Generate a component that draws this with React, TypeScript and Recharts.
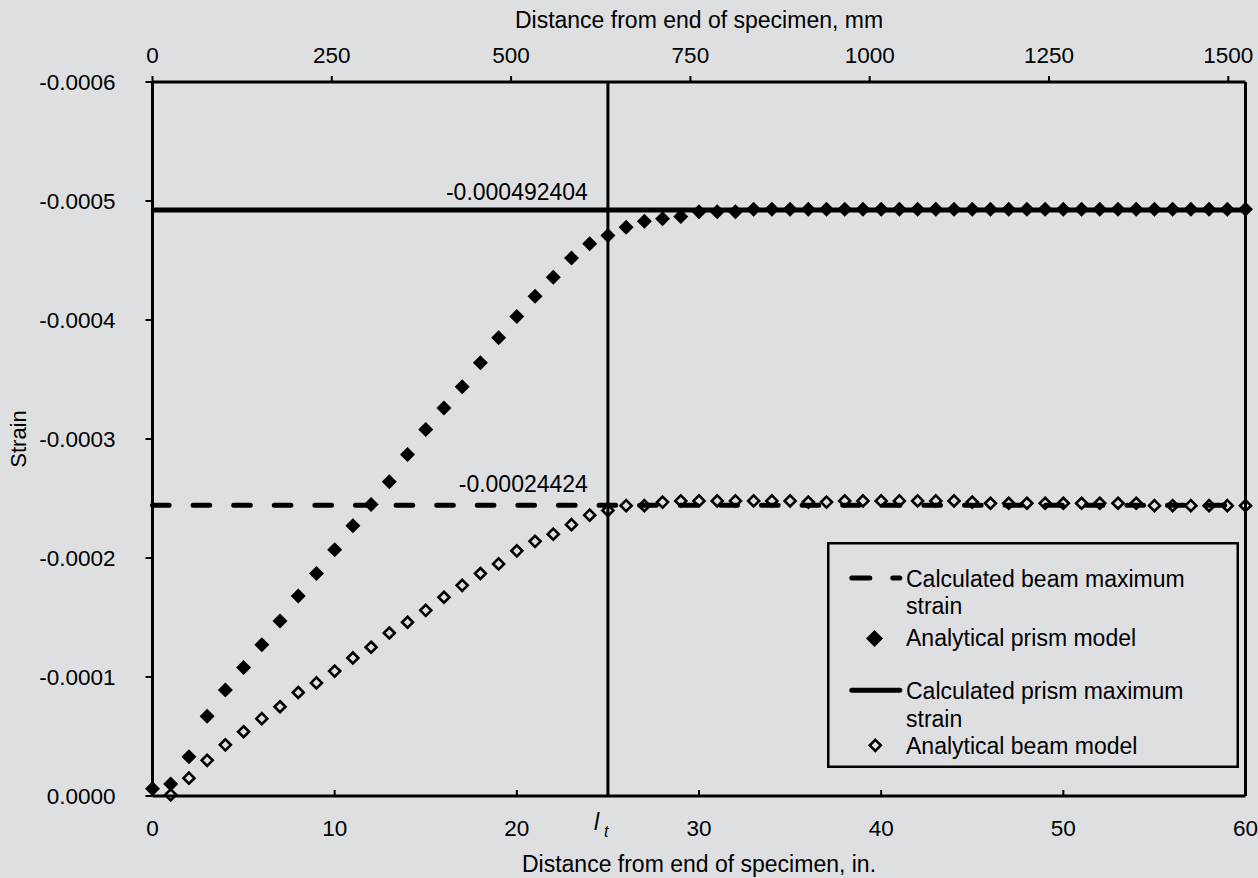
import React from 'react';
import { ScatterChart, Scatter, XAxis, YAxis, ReferenceLine } from 'recharts';

const FONT = '"Liberation Sans", Arial, Helvetica, sans-serif';
const BG = '#dedfe1';

// axis ticks
const inchTicks = [0, 10, 20, 25, 30, 40, 50, 60];
const mmTicks = [0, 250, 500, 750, 1000, 1250, 1500];
const strainTicks = [0, -0.0001, -0.0002, -0.0003, -0.0004, -0.0005, -0.0006];

// reference values
const transferLength = 25;
const specimenEnd = 60;
const mmPerInch = 25.4;
const prismMaxStrain = -0.000492404;
const beamMaxStrain = -0.00024424;

// analytical prism model (filled diamonds), distance in inches
const prismX = [
  0, 1, 2, 3, 4, 5, 6, 7, 8, 9, 10, 11, 12, 13, 14, 15, 16, 17, 18, 19, 20,
  21, 22, 23, 24, 25, 26, 27, 28, 29, 30, 31, 32, 33, 34, 35, 36, 37, 38, 39, 40,
  41, 42, 43, 44, 45, 46, 47, 48, 49, 50, 51, 52, 53, 54, 55, 56, 57, 58, 59, 60,
];
const prismStrain = [
  -0.000006, -0.00001, -0.000033, -0.000067, -0.000089, -0.000108, -0.000127,
  -0.000147, -0.000168, -0.000187, -0.000207, -0.000227, -0.000245, -0.000264,
  -0.000287, -0.000308, -0.000326, -0.000344, -0.000364, -0.000385, -0.000403,
  -0.00042, -0.000436, -0.000452, -0.000464, -0.000471, -0.000478, -0.000483,
  -0.000485, -0.000487, -0.000491, -0.000491, -0.000491, -0.000493, -0.000493,
  -0.000493, -0.000493, -0.000493, -0.000493, -0.000493, -0.000493, -0.000493,
  -0.000493, -0.000493, -0.000493, -0.000493, -0.000493, -0.000493, -0.000493,
  -0.000493, -0.000493, -0.000493, -0.000493, -0.000493, -0.000493, -0.000493,
  -0.000493, -0.000493, -0.000493, -0.000493, -0.000493,
];

// analytical beam model (open diamonds)
const beamX = [
  1, 2, 3, 4, 5, 6, 7, 8, 9, 10, 11, 12, 13, 14, 15, 16, 17, 18, 19, 20,
  21, 22, 23, 24, 25, 26, 27, 28, 29, 30, 31, 32, 33, 34, 35, 36, 37, 38, 39, 40,
  41, 42, 43, 44, 45, 46, 47, 48, 49, 50, 51, 52, 53, 54, 55, 56, 57, 58, 59, 60,
];
const beamStrain = [
  -0.000001, -0.000015, -0.00003, -0.000043, -0.000054, -0.000065, -0.000075,
  -0.000087, -0.000095, -0.000105, -0.000116, -0.000125, -0.000137, -0.000146,
  -0.000156, -0.000167, -0.000177, -0.000187, -0.000195, -0.000206, -0.000214,
  -0.00022, -0.000228, -0.000236, -0.00024, -0.000244, -0.000244, -0.000247,
  -0.000248, -0.000248, -0.000248, -0.000248, -0.000248, -0.000248, -0.000248,
  -0.000247, -0.000247, -0.000248, -0.000248, -0.000248, -0.000248, -0.000248,
  -0.000248, -0.000248, -0.000247, -0.000246, -0.000246, -0.000246, -0.000246,
  -0.000246, -0.000246, -0.000246, -0.000246, -0.000246, -0.000244, -0.000244,
  -0.000244, -0.000244, -0.000244, -0.000244,
];

const prismData = prismX.map((x, i) => ({ x, mm: x * mmPerInch, y: prismStrain[i] }));
const beamData = beamX.map((x, i) => ({ x, y: beamStrain[i] }));

const FilledDiamond = ({ cx, cy, r = 7.5 }: any) => (
  <path d={`M${cx},${cy - r}L${cx + r},${cy}L${cx},${cy + r}L${cx - r},${cy}Z`} fill="#000" />
);

const OpenDiamond = ({ cx, cy, r = 5.5 }: any) => (
  <path
    d={`M${cx},${cy - r}L${cx + r},${cy}L${cx},${cy + r}L${cx - r},${cy}Z`}
    fill="none"
    stroke="#000"
    strokeWidth={2.6}
    strokeLinejoin="miter"
  />
);

const fmtStrain = (v: number) => (v === 0 ? '0.0000' : v.toFixed(4));

const InchTick = ({ x, y, payload }: any) => {
  if (payload.value === transferLength) {
    return (
      <g fontFamily={FONT} fill="#000">
        <text x={x - 14} y={y + 34} fontSize={23} fontStyle="italic">l</text>
        <text x={x - 4} y={y + 41} fontSize={16} fontStyle="italic">t</text>
      </g>
    );
  }
  return (
    <g>
      <line x1={x} y1={y} x2={x} y2={y - 6} stroke="#000" strokeWidth={2} />
      <text x={x} y={y + 40} textAnchor="middle" fontSize={22.5} fontFamily={FONT} fill="#000">
        {payload.value}
      </text>
    </g>
  );
};

const ValueLabel = ({ viewBox, text, dy }: any) => {
  const x = viewBox.x + (transferLength / specimenEnd) * viewBox.width - 20;
  return (
    <text x={x} y={viewBox.y - dy} textAnchor="end" fontSize={23} fontFamily={FONT} fill="#000">
      {text}
    </text>
  );
};

const LegendBox = () => (
  <svg width={412} height={226} style={{ display: 'block' }}>
    <rect x={1.25} y={1.25} width={409.5} height={223.5} fill="none" stroke="#000" strokeWidth={2.5} />
    <g fontFamily={FONT} fontSize={23} fill="#000">
      <line x1={24.8} y1={36} x2={72.8} y2={36} stroke="#000" strokeWidth={5} strokeDasharray="18 23" strokeLinecap="round" />
      <text x={79} y={45}>Calculated beam maximum</text>
      <text x={79} y={72}>strain</text>
      <FilledDiamond cx={47.5} cy={96.5} r={8.5} />
      <text x={79} y={104}>Analytical prism model</text>
      <line x1={24.8} y1={148.3} x2={72.8} y2={148.3} stroke="#000" strokeWidth={5} strokeLinecap="round" />
      <text x={79} y={157}>Calculated prism maximum</text>
      <text x={79} y={185}>strain</text>
      <OpenDiamond cx={48.3} cy={203.3} r={5.5} />
      <text x={79} y={212}>Analytical beam model</text>
    </g>
  </svg>
);

export default function App() {
  return (
    <div style={{ position: 'fixed', left: 0, top: 0, width: 1258, height: 878, background: BG }}>
      <ScatterChart width={1258} height={878} margin={{ top: 0, right: 12.5, bottom: 0, left: 0 }}>
        <XAxis
          xAxisId="in"
          dataKey="x"
          type="number"
          orientation="bottom"
          domain={[0, 60]}
          ticks={inchTicks}
          interval={0}
          height={82}
          tickSize={0}
          tickMargin={0}
          tickLine={false}
          tick={<InchTick />}
          axisLine={{ stroke: '#000', strokeWidth: 3 }}
          label={(p: any) => (
            <text
              x={p.viewBox.x + p.viewBox.width / 2}
              y={p.viewBox.y + 76}
              textAnchor="middle"
              fontSize={23}
              fontFamily={FONT}
              fill="#000"
            >
              Distance from end of specimen, in.
            </text>
          )}
        />
        <XAxis
          xAxisId="mm"
          dataKey="mm"
          type="number"
          orientation="top"
          domain={[0, 1524]}
          allowDataOverflow
          ticks={mmTicks}
          interval={0}
          height={82}
          tickSize={6}
          tickMargin={13}
          tickLine={{ stroke: '#000', strokeWidth: 2 }}
          tick={{ fill: '#000', fontSize: 22.5, fontFamily: FONT }}
          axisLine={{ stroke: '#000', strokeWidth: 3 }}
          label={(p: any) => (
            <text
              x={p.viewBox.x + p.viewBox.width / 2}
              y={28}
              textAnchor="middle"
              fontSize={23}
              fontFamily={FONT}
              fill="#000"
            >
              Distance from end of specimen, mm
            </text>
          )}
        />
        <YAxis
          dataKey="y"
          type="number"
          domain={[-0.0006, 0]}
          reversed
          ticks={strainTicks}
          interval={0}
          width={152.5}
          tickSize={7}
          tickMargin={30}
          tickFormatter={fmtStrain}
          tickLine={{ stroke: '#000', strokeWidth: 2 }}
          tick={{ fill: '#000', fontSize: 22.5, fontFamily: FONT }}
          axisLine={{ stroke: '#000', strokeWidth: 3 }}
          label={(p: any) => {
            const cx = p.viewBox.x + 18;
            const cy = p.viewBox.y + p.viewBox.height / 2;
            return (
              <text
                x={cx}
                y={cy}
                transform={`rotate(-90, ${cx}, ${cy})`}
                textAnchor="middle"
                dominantBaseline="central"
                fontSize={22}
                fontFamily={FONT}
                fill="#000"
              >
                Strain
              </text>
            );
          }}
        />
        <ReferenceLine xAxisId="in" x={specimenEnd} stroke="#000" strokeWidth={3} />
        <ReferenceLine xAxisId="in" x={transferLength} stroke="#000" strokeWidth={3} />
        <ReferenceLine
          xAxisId="in"
          y={prismMaxStrain}
          stroke="#000"
          strokeWidth={5}
          label={(p: any) => <ValueLabel viewBox={p.viewBox} text="-0.000492404" dy={10} />}
        />
        <ReferenceLine
          xAxisId="in"
          y={beamMaxStrain}
          stroke="#000"
          strokeWidth={5}
          strokeDasharray="16.6 24"
          strokeLinecap="round"
          label={(p: any) => <ValueLabel viewBox={p.viewBox} text="-0.00024424" dy={13} />}
        />
        {/* invisible series so the mm axis gets its ticks */}
        <Scatter
          xAxisId="mm"
          data={prismData}
          dataKey="y"
          isAnimationActive={false}
          legendType="none"
          shape={() => <g />}
        />
        <Scatter
          xAxisId="in"
          name="Analytical prism model"
          data={prismData}
          isAnimationActive={false}
          shape={(p: any) => <FilledDiamond cx={p.cx} cy={p.cy} />}
        />
        <Scatter
          xAxisId="in"
          name="Analytical beam model"
          data={beamData}
          isAnimationActive={false}
          shape={(p: any) => <OpenDiamond cx={p.cx} cy={p.cy} />}
        />
      </ScatterChart>
      <div style={{ position: 'absolute', left: 826.5, top: 541.5 }}>
        <LegendBox />
      </div>
    </div>
  );
}
